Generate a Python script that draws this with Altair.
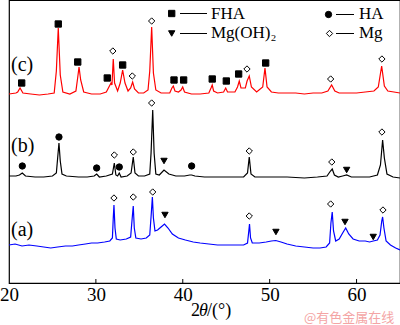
import altair as alt
import pandas as pd

FONT = "Liberation Serif"
PAD_L = 9  # left padding of the plot area (px)

# ---------------- data: (2θ / °, intensity / a.u.) ----------------
trace_c = [(20.0, 189), (20.8, 190), (21.0, 191), (21.27, 195), (21.6, 190), (22.5, 189),
           (23.5, 188), (24.5, 189), (25.2, 190), (25.45, 212), (25.67, 255), (25.9, 208),
           (26.2, 191), (27.0, 189), (27.7, 192), (27.9, 205), (28.06, 216), (28.25, 203),
           (28.6, 191), (29.5, 189), (30.5, 189), (31.2, 191), (31.5, 196), (31.74, 200),
           (31.85, 198), (32.0, 224), (32.15, 200), (32.5, 192), (32.8, 200), (33.08, 213),
           (33.35, 200), (33.7, 192), (34.0, 195), (34.23, 201), (34.45, 194), (34.9, 190),
           (35.5, 190), (36.0, 193), (36.2, 212), (36.42, 256), (36.62, 210), (36.9, 193),
           (37.5, 190), (38.5, 190), (38.75, 195), (38.91, 197), (39.1, 192), (39.5, 191),
           (39.8, 193), (39.99, 196), (40.2, 191), (41.0, 189), (42.0, 189), (43.0, 190),
           (43.25, 195), (43.39, 198), (43.55, 192), (44.0, 190), (44.7, 191), (44.94, 195),
           (45.15, 191), (46.0, 191), (46.3, 196), (46.5, 202), (46.7, 195), (47.2, 195),
           (47.4, 202), (47.65, 207), (47.9, 196), (48.5, 191), (49.2, 196), (49.46, 215),
           (49.7, 196), (50.2, 191), (51.0, 190), (52.0, 190), (53.0, 190), (54.0, 189),
           (55.0, 190), (56.0, 190), (56.7, 192), (57.13, 198), (57.5, 192), (58.0, 190),
           (59.0, 190), (60.0, 190), (61.0, 191), (62.0, 192), (62.5, 196), (62.89, 217),
           (63.2, 197), (63.6, 192), (64.3, 191), (65.0, 190)]

trace_b = [(20.0, 107), (20.8, 107), (21.2, 108), (21.53, 110), (21.9, 107), (23.0, 106),
           (24.0, 106), (25.0, 107), (25.45, 110), (25.6, 125), (25.75, 140), (25.9, 122),
           (26.1, 109), (26.6, 107), (28.0, 106), (29.0, 106), (29.8, 107), (30.09, 109),
           (30.4, 106), (31.2, 107), (31.9, 109), (32.12, 120), (32.3, 108), (32.5, 107),
           (32.69, 110), (32.9, 106), (33.6, 107), (34.05, 110), (34.3, 126), (34.5, 110),
           (34.9, 107), (35.6, 107), (36.2, 109), (36.35, 130), (36.54, 173), (36.7, 130),
           (36.9, 109), (37.3, 108), (37.84, 113), (38.4, 109), (39.2, 107), (40.2, 107),
           (40.8, 108), (41.02, 108), (41.4, 107), (42.5, 106), (44.0, 106), (45.5, 106),
           (47.0, 106), (47.45, 110), (47.65, 126), (47.85, 109), (48.3, 106), (50.0, 106),
           (52.0, 106), (54.0, 105), (55.5, 106), (56.6, 107), (57.0, 112), (57.2, 114),
           (57.45, 108), (57.9, 106), (58.4, 107), (58.86, 108), (59.4, 106), (60.5, 106),
           (61.5, 106), (62.4, 108), (62.75, 118), (63.0, 143), (63.2, 125), (63.5, 109),
           (64.2, 106), (65.0, 105)]

trace_a = [(20.0, 38), (20.7, 39), (21.5, 37), (22.3, 38), (23.2, 37), (24.0, 36),
           (24.8, 35), (25.6, 36), (26.5, 37), (27.3, 37), (28.0, 38), (28.8, 39),
           (29.5, 40), (30.2, 40), (31.0, 41), (31.6, 42), (31.9, 45), (32.0, 65),
           (32.08, 78), (32.2, 55), (32.35, 44), (32.8, 43), (33.5, 44), (34.0, 46),
           (34.18, 65), (34.3, 77), (34.42, 55), (34.6, 45), (35.2, 44), (35.8, 45),
           (36.2, 48), (36.38, 70), (36.5, 86), (36.62, 65), (36.8, 52), (37.1, 53),
           (37.5, 56), (37.9, 59), (38.3, 55), (38.8, 49), (39.5, 45), (40.3, 43),
           (41.2, 41), (42.0, 40), (43.0, 39), (44.0, 38), (45.0, 38), (46.0, 38),
           (47.0, 38), (47.45, 40), (47.6, 52), (47.68, 59), (47.8, 45), (48.0, 40),
           (48.8, 40), (49.6, 41), (50.2, 42), (50.7, 42.5), (51.3, 41), (52.0, 39),
           (53.0, 37), (54.0, 36), (55.0, 35), (55.8, 35), (56.5, 36), (56.9, 40),
           (57.05, 60), (57.2, 71), (57.35, 52), (57.6, 42), (58.0, 44), (58.4, 50),
           (58.75, 55), (59.1, 49), (59.6, 44), (60.3, 42), (61.0, 42), (61.5, 41),
           (61.92, 42), (62.4, 43), (62.7, 48), (62.9, 62), (63.0, 66), (63.15, 55),
           (63.4, 42), (63.9, 38), (64.5, 35), (65.0, 33)]

# phase markers: (2θ, intensity, phase)
markers_c = [(21.46, 200, "FHA"), (25.67, 259, "FHA"), (27.91, 221, "FHA"), (31.31, 205, "FHA"),
             (31.95, 232, "Mg"), (33.08, 218, "FHA"), (34.19, 207, "Mg"), (36.42, 262, "Mg"),
             (38.99, 203, "FHA"), (40.1, 203, "FHA"), (43.39, 204, "FHA"), (45.01, 202, "FHA"),
             (46.43, 209, "FHA"), (47.39, 214, "Mg"), (49.54, 220, "FHA"), (57.02, 204, "Mg"),
             (62.92, 224, "Mg")]
markers_b = [(21.53, 117, "HA"), (25.75, 146, "HA"), (30.09, 115, "HA"), (32.12, 128, "Mg"),
             (32.69, 116, "HA"), (34.3, 131, "Mg"), (36.42, 180, "Mg"), (37.84, 122, "Mg(OH)2"),
             (41.02, 117, "HA"), (47.65, 132, "Mg"), (57.15, 121, "Mg"), (58.86, 113, "Mg(OH)2"),
             (62.92, 151, "Mg")]
markers_a = [(32.08, 85, "Mg"), (34.3, 86, "Mg"), (36.54, 91, "Mg"), (37.95, 68, "Mg(OH)2"),
             (47.65, 67, "Mg"), (50.72, 51, "Mg(OH)2"), (57.02, 79, "Mg"), (58.67, 61, "Mg(OH)2"),
             (61.92, 46, "Mg(OH)2"), (63.04, 73, "Mg")]

series = ["a", "b", "c"]
series_labels = ["(a)", "(b)", "(c)"]
series_colors = ["#0000ff", "#000000", "#ff0000"]
phases = ["FHA", "HA", "Mg(OH)2", "Mg"]
phase_names = ["FHA", "HA", "Mg(OH)₂", "Mg"]
phase_shapes = ["square", "circle", "triangle-down", "diamond"]
phase_fills = ["black", "black", "black", "white"]
x_ticks = [20, 30, 40, 50, 60]

# ---------------- tables ----------------
lines_df = pd.concat([
    pd.DataFrame(t, columns=["theta", "I"]).assign(series=s)
    for s, t in zip(series, [trace_a, trace_b, trace_c])
], ignore_index=True)
marks_df = pd.concat([
    pd.DataFrame(m, columns=["theta", "I", "phase"]).assign(series=s)
    for s, m in zip(series, [markers_a, markers_b, markers_c])
], ignore_index=True)
ticks_df = pd.DataFrame({"t": x_ticks[1:]})
one = pd.DataFrame({"k": [0]})

xscale = alt.Scale(domain=[20, 65], nice=False, zero=False)
yscale = alt.Scale(domain=[0, 283], nice=False, zero=False)

x_enc = alt.X("theta:Q", scale=xscale,
              axis=alt.Axis(values=x_ticks, title=None, ticks=False, tickSize=0, domain=False,
                            grid=False, labelFont=FONT, labelFontSize=19, labelColor="black",
                            labelPadding=2, labelFlush=False, labelOverlap=False))

lines = alt.Chart(lines_df).mark_line(strokeWidth=1.2).encode(
    x=x_enc,
    y=alt.Y("I:Q", scale=yscale, axis=None),
    color=alt.Color("series:N", scale=alt.Scale(domain=series, range=series_colors), legend=None),
)

shape_scale = alt.Scale(domain=phases, range=phase_shapes)
fill_scale = alt.Scale(domain=phases, range=phase_fills)

points = alt.Chart(marks_df).mark_point(size=40, opacity=1, stroke="black", strokeWidth=1).encode(
    x=alt.X("theta:Q", scale=xscale),
    y=alt.Y("I:Q", scale=yscale),
    shape=alt.Shape("phase:N", scale=shape_scale, legend=None),
    fill=alt.Fill("phase:N", scale=fill_scale, legend=None),
)

ticks = alt.Chart(ticks_df).mark_rule(color="black", strokeWidth=1).encode(
    x=alt.X("t:Q", scale=xscale), y=alt.value(283), y2=alt.value(279))


def text_at(txt, px, py, size=17, align="left", baseline="alphabetic", style="normal",
            font=FONT, color="black"):
    return alt.Chart(one).mark_text(text=txt, font=font, fontSize=size, align=align,
                                    baseline=baseline, fontStyle=style, color=color).encode(
        x=alt.value(px - PAD_L), y=alt.value(py))


def legend_item(k, mx, my, x1, x2, tx, ty):
    sym = alt.Chart(one).mark_point(shape=phase_shapes[k], size=40, opacity=1,
                                    fill=phase_fills[k], stroke="black", strokeWidth=1).encode(
        x=alt.value(mx - PAD_L), y=alt.value(my))
    rule = alt.Chart(one).mark_rule(color="black", strokeWidth=1).encode(
        x=alt.value(x1 - PAD_L), x2=alt.value(x2 - PAD_L), y=alt.value(my))
    return [sym, rule, text_at(phase_names[k], tx, ty)]


legend = (legend_item(0, 171.7, 13.5, 180, 207, 211, 19)
          + legend_item(2, 171.7, 33.5, 180, 207, 211, 38)
          + legend_item(1, 328.5, 14.5, 336, 354, 359, 19)
          + legend_item(3, 329.5, 33.5, 336, 354, 359, 38))

labels = [text_at(series_labels[2], 11, 64.5, size=20, baseline="middle"),
          text_at(series_labels[1], 11, 145.5, size=20, baseline="middle"),
          text_at(series_labels[0], 11, 230, size=20, baseline="middle")]

xtitle = [text_at("2", 191, 316, size=18),
          text_at("θ", 199, 316, size=18, style="italic"),
          text_at("/(°)", 207, 316, size=18)]

watermark = text_at("@有色金属在线", 304, 318, size=13, baseline="middle",
                    font="Noto Sans CJK SC", color="#f4a5a5")

chart = alt.layer(lines, points, ticks, *legend, *labels, *xtitle, watermark).properties(
    width=391, height=283,
    padding={"left": PAD_L, "top": 0, "right": 0, "bottom": 42},
    autosize=alt.AutoSizeParams(type="none"),
).configure_view(stroke="black", strokeWidth=1.2)

chart.save("out.html", embed_options={"renderer": "svg", "actions": False})
